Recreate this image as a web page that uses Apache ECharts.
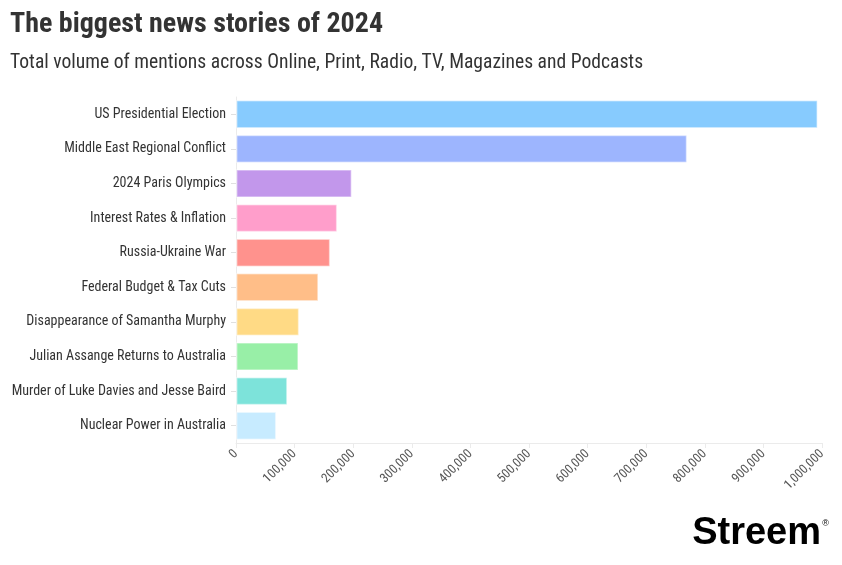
<!DOCTYPE html>
<html>
<head>
<meta charset="utf-8">
<script src="https://cdn.jsdelivr.net/npm/echarts@6/dist/echarts.min.js"></script>
<style>
html,body{margin:0;padding:0;background:#fff;}
#chart{width:842px;height:565px;}
</style>
</head>
<body>
<div id="chart"></div>
<script>
const categories = [
  "US Presidential Election",
  "Middle East Regional Conflict",
  "2024 Paris Olympics",
  "Interest Rates & Inflation",
  "Russia-Ukraine War",
  "Federal Budget & Tax Cuts",
  "Disappearance of Samantha Murphy",
  "Julian Assange Returns to Australia",
  "Murder of Luke Davies and Jesse Baird",
  "Nuclear Power in Australia"
];
const mentions = [993000, 770000, 198000, 173000, 161000, 141000, 108000, 107000, 88000, 69000];
const barColors = ["#87CBFE", "#9DB5FE", "#C297EB", "#FF9ECB", "#FF928D", "#FFBE88", "#FFDA85", "#98EFA7", "#7DE3DA", "#C7EBFF"];
const xTicks = [0, 100000, 200000, 300000, 400000, 500000, 600000, 700000, 800000, 900000, 1000000];
const titleText = "The biggest news stories of 2024";
const subtitleText = "Total volume of mentions across Online, Print, Radio, TV, Magazines and Podcasts";

const condensed = '"Roboto Condensed","Liberation Sans Narrow","DejaVu Sans Condensed",sans-serif';

const chart = echarts.init(document.getElementById('chart'), null, {renderer: 'canvas'});
chart.setOption({
  backgroundColor: '#ffffff',
  animation: false,
  title: [{
    text: titleText,
    left: 10, top: 11, padding: 0,
    textStyle: {fontFamily: condensed, fontWeight: 'bold', fontSize: 28, color: '#333333'}
  }, {
    text: subtitleText,
    left: 10, top: 53, padding: 0,
    textStyle: {fontFamily: condensed, fontWeight: 'normal', fontSize: 19.6, color: '#333333'}
  }],
  grid: {left: 236, right: 20, top: 97, bottom: 122, containLabel: false},
  xAxis: {
    type: 'value',
    min: xTicks[0], max: xTicks[xTicks.length - 1], interval: xTicks[1] - xTicks[0],
    axisLine: {show: true, lineStyle: {color: '#ebebeb', width: 1}},
    axisTick: {show: true, length: 5, lineStyle: {color: '#ebebeb'}},
    splitLine: {show: false},
    axisLabel: {
      rotate: 45, margin: 9, color: '#555555', fontSize: 13, fontFamily: condensed,
      formatter: v => v.toLocaleString('en-US')
    }
  },
  yAxis: {
    type: 'category',
    data: categories,
    inverse: true,
    axisLine: {show: true, lineStyle: {color: '#ebebeb', width: 1}},
    axisTick: {show: true, alignWithLabel: true, length: 5, lineStyle: {color: '#e0e0e0'}},
    axisLabel: {color: '#333333', fontSize: 14, fontFamily: condensed, margin: 10}
  },
  series: [{
    type: 'bar',
    barCategoryGap: '18%',
    data: mentions.map((v, i) => ({
      value: v,
      itemStyle: {color: barColors[i], borderColor: 'rgba(255,255,255,0.45)', borderWidth: 1.5}
    }))
  }],
  graphic: [{
    type: 'text',
    right: 21, top: 515,
    style: {text: 'Streem', font: '900 38px "Liberation Sans","DejaVu Sans",sans-serif', fill: '#000000'}
  }, {
    type: 'text',
    right: 13, top: 519,
    style: {text: '®', font: '9px "Liberation Sans",sans-serif', fill: '#000000'}
  }]
});
</script>
</body>
</html>
